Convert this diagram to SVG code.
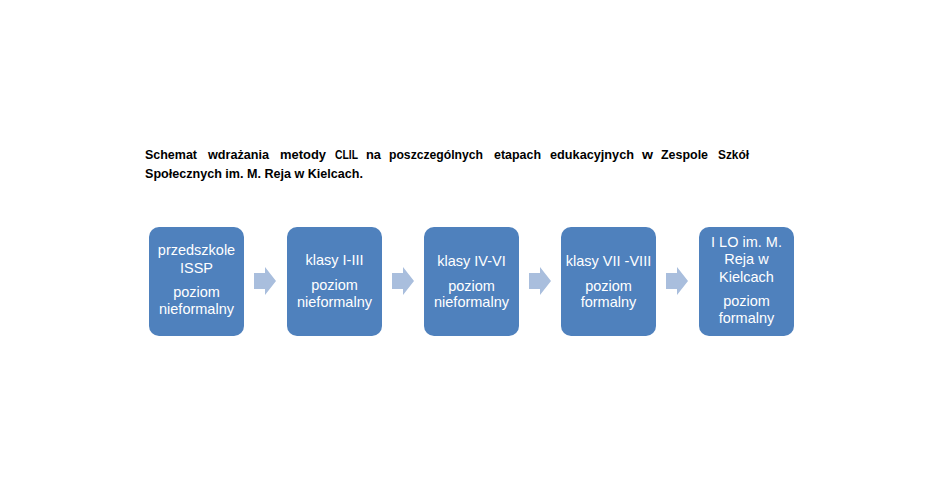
<svg xmlns="http://www.w3.org/2000/svg" width="936" height="492" viewBox="0 0 936 492">
<style>
.t{font-family:"Liberation Sans",Arial,sans-serif;font-weight:bold;font-size:13px;fill:#000}
.box{fill:#4F81BD}
.lb{font-family:"Liberation Sans",Arial,sans-serif;font-size:14.5px;fill:#fff;text-anchor:middle}
.arr{fill:#A9BEDD}
</style>
<rect width="936" height="492" fill="#fff"/>
<g id="title">
<text class="t" x="145" y="159" textLength="52" lengthAdjust="spacingAndGlyphs">Schemat</text>
<text class="t" x="208" y="159" textLength="61" lengthAdjust="spacingAndGlyphs">wdrażania</text>
<text class="t" x="280" y="159" textLength="46" lengthAdjust="spacingAndGlyphs">metody</text>
<text class="t" x="335" y="159" textLength="23" lengthAdjust="spacingAndGlyphs">CLIL</text>
<text class="t" x="366" y="159" textLength="15" lengthAdjust="spacingAndGlyphs">na</text>
<text class="t" x="389" y="159" textLength="94" lengthAdjust="spacingAndGlyphs">poszczególnych</text>
<text class="t" x="494" y="159" textLength="47" lengthAdjust="spacingAndGlyphs">etapach</text>
<text class="t" x="550" y="159" textLength="84" lengthAdjust="spacingAndGlyphs">edukacyjnych</text>
<text class="t" x="642" y="159" textLength="11" lengthAdjust="spacingAndGlyphs">w</text>
<text class="t" x="661" y="159" textLength="47" lengthAdjust="spacingAndGlyphs">Zespole</text>
<text class="t" x="718" y="159" textLength="31" lengthAdjust="spacingAndGlyphs">Szkół</text>
<text class="t" x="145" y="178" textLength="218" lengthAdjust="spacingAndGlyphs">Społecznych im. M. Reja w Kielcach.</text>
</g>
<g id="connectors">
<polygon class="arr" points="254,273 265,273 265,267 276,281 265,295 265,289 254,289"/>
<polygon class="arr" points="392,273 403,273 403,267 414,281 403,295 403,289 392,289"/>
<polygon class="arr" points="529,273 540,273 540,267 551,281 540,295 540,289 529,289"/>
<polygon class="arr" points="666,273 677,273 677,267 688,281 677,295 677,289 666,289"/>
</g>
<g id="n1">
<rect class="box" x="149" y="227" width="95" height="109" rx="10"/>
<text class="lb" x="196.5" y="255">przedszkole</text>
<text class="lb" x="196.5" y="273">ISSP</text>
<text class="lb" x="196.5" y="297">poziom</text>
<text class="lb" x="196.5" y="314">nieformalny</text>
</g>
<g id="n2">
<rect class="box" x="287" y="227" width="95" height="109" rx="10"/>
<text class="lb" x="334.5" y="265">klasy I-III</text>
<text class="lb" x="334.5" y="290">poziom</text>
<text class="lb" x="334.5" y="307">nieformalny</text>
</g>
<g id="n3">
<rect class="box" x="424" y="227" width="95" height="109" rx="10"/>
<text class="lb" x="471.5" y="266">klasy IV-VI</text>
<text class="lb" x="471.5" y="291">poziom</text>
<text class="lb" x="471.5" y="307">nieformalny</text>
</g>
<g id="n4">
<rect class="box" x="561" y="227" width="95" height="109" rx="10"/>
<text class="lb" x="608.5" y="266">klasy VII -VIII</text>
<text class="lb" x="608.5" y="291">poziom</text>
<text class="lb" x="608.5" y="307">formalny</text>
</g>
<g id="n5">
<rect class="box" x="699" y="227" width="95" height="109" rx="10"/>
<text class="lb" x="746.5" y="247">I LO im. M.</text>
<text class="lb" x="746.5" y="264">Reja w</text>
<text class="lb" x="746.5" y="282">Kielcach</text>
<text class="lb" x="746.5" y="306">poziom</text>
<text class="lb" x="746.5" y="323">formalny</text>
</g>
</svg>
